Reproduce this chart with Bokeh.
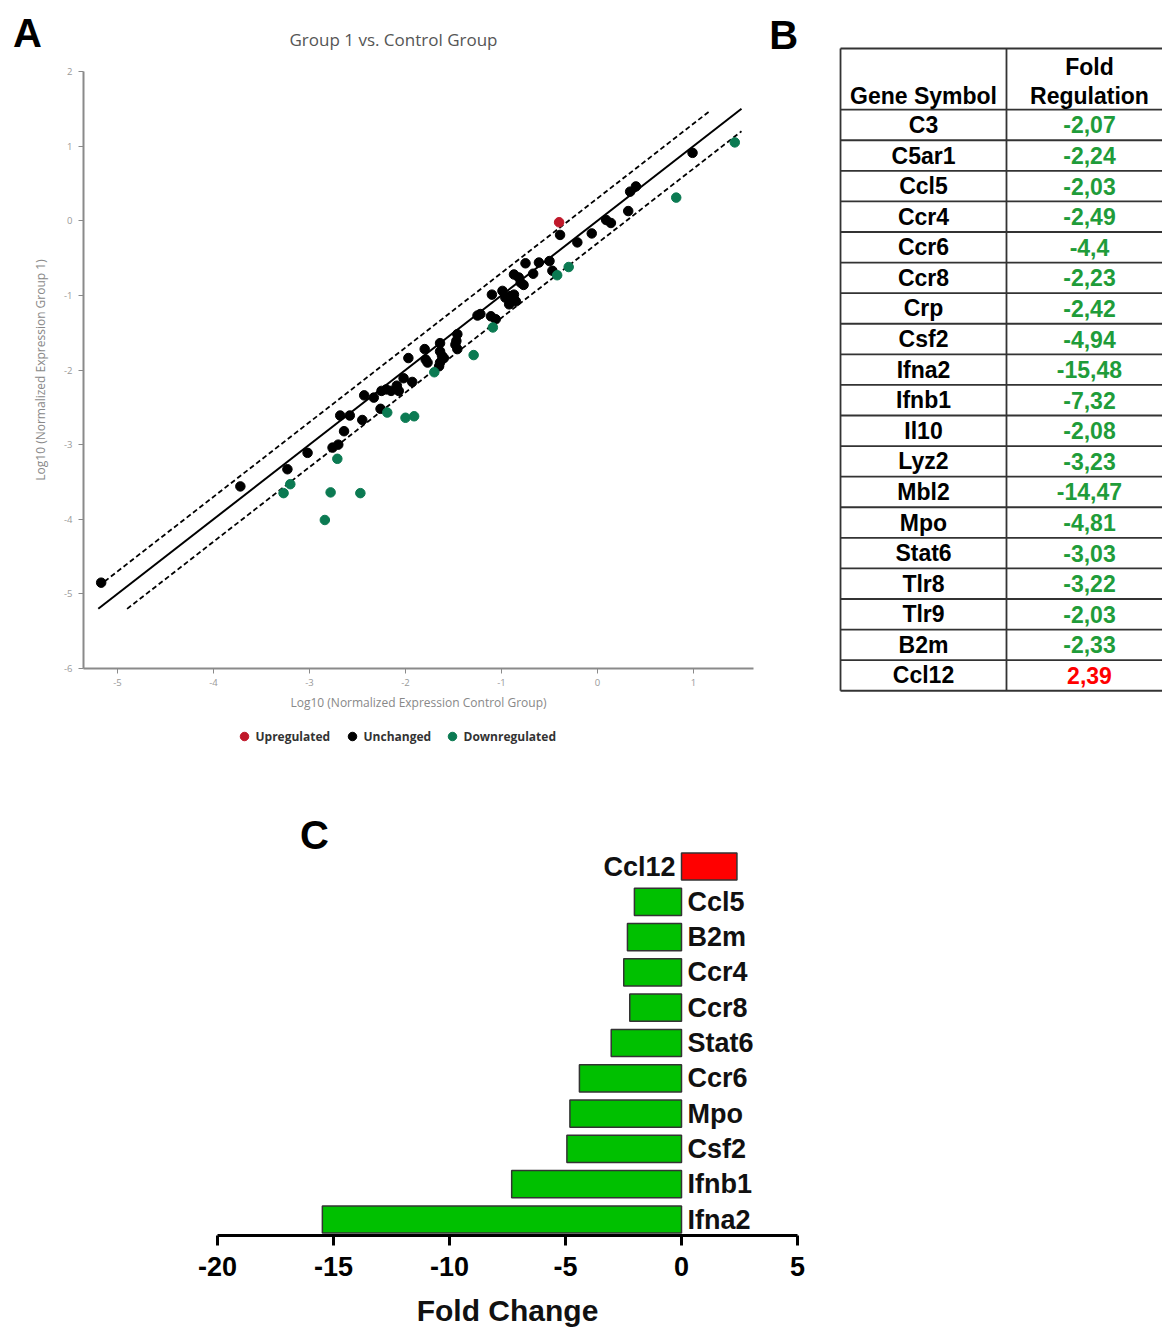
from bokeh.plotting import figure
from bokeh.models import Range1d, Label, FixedTicker
from bokeh.layouts import column, row
from bokeh.embed import file_html
from bokeh.resources import INLINE
from bokeh.core.properties import value

# ---------------- Panel A data (log10 normalized expression) ----------------
up_x = [-0.40]
up_y = [-0.02]

unch_x = [-5.17, -3.72, -3.23, -3.02, -2.76, -2.70, -2.64, -2.68, -2.58, -2.45,
          -2.43, -2.33, -2.26, -2.25, -2.20, -2.15, -2.09, -2.07, -2.02, -1.93,
          -1.97, -1.80, -1.79, -1.77, -1.64, -1.62, -1.64, -1.65, -1.46, -1.48,
          -1.47, -1.46, -1.64, -1.60, -1.25, -1.22, -1.11, -1.06, -1.10, -0.99,
          -0.96, -0.91, -0.87, -0.92, -0.85, -0.82, -0.80, -0.77, -0.87, -0.75,
          -0.61, -0.50, -0.67, -0.47, -0.39, -0.21, -0.06, 0.09, 0.14, 0.32,
          0.34, 0.40, 0.99]
unch_y = [-4.85, -3.56, -3.33, -3.11, -3.04, -3.00, -2.82, -2.61, -2.61, -2.67,
          -2.34, -2.37, -2.52, -2.28, -2.26, -2.28, -2.21, -2.28, -2.11, -2.16,
          -1.84, -1.72, -1.86, -1.90, -1.64, -1.81, -1.90, -1.95, -1.52, -1.66,
          -1.61, -1.72, -1.75, -1.84, -1.27, -1.25, -1.28, -1.32, -0.99, -0.94,
          -1.03, -1.01, -0.99, -1.12, -1.08, -0.76, -0.83, -0.86, -0.72, -0.57,
          -0.56, -0.54, -0.71, -0.67, -0.19, -0.29, -0.17, 0.01, -0.03, 0.13,
          0.39, 0.46, 0.91]

down_x = [1.43, 0.82, -0.30, -0.42, -1.09, -1.29, -1.70, -2.19, -2.00, -1.91,
          -2.71, -3.20, -3.27, -2.78, -2.47, -2.84]
down_y = [1.05, 0.31, -0.62, -0.73, -1.43, -1.80, -2.03, -2.57, -2.64, -2.62,
          -3.19, -3.53, -3.65, -3.64, -3.65, -4.01]

diag_x = [-5.2, 1.5]
upper_x = [-5.2, 1.18]
lower_x = [-4.9, 1.5]
fold_shift = 0.301  # log10(2)

a_xticks = [-5, -4, -3, -2, -1, 0, 1]
a_yticks = [-6, -5, -4, -3, -2, -1, 0, 1, 2]
legend_labels = ["Upregulated", "Unchanged", "Downregulated"]

# ---------------- Panel B data ----------------
table_genes = ["C3", "C5ar1", "Ccl5", "Ccr4", "Ccr6", "Ccr8", "Crp", "Csf2", "Ifna2",
               "Ifnb1", "Il10", "Lyz2", "Mbl2", "Mpo", "Stat6", "Tlr8", "Tlr9", "B2m", "Ccl12"]
table_fold = [-2.07, -2.24, -2.03, -2.49, -4.4, -2.23, -2.42, -4.94, -15.48,
              -7.32, -2.08, -3.23, -14.47, -4.81, -3.03, -3.22, -2.03, -2.33, 2.39]

# ---------------- Panel C data ----------------
bar_genes = ["Ifna2", "Ifnb1", "Csf2", "Mpo", "Ccr6", "Stat6", "Ccr8", "Ccr4", "B2m", "Ccl5", "Ccl12"]
bar_vals = [-15.48, -7.32, -4.94, -4.81, -4.4, -3.03, -2.23, -2.49, -2.33, -2.03, 2.39]
c_xticks = [-20, -15, -10, -5, 0, 5]

RED_A = "#c0182a"
GREEN_A = "#0b7a52"
GRAY_AX = "#8a8a8a"
FONT_A = "Open Sans"
FONT_B = "Liberation Sans"


def bare(p):
    if "frame_align" in p.properties():
        p.frame_align = False
    p.grid.visible = False
    p.outline_line_color = None
    return p


# =============== Header strip for panel A (letter + title) ===============
HDR_H = 54
hdr = bare(figure(width=765, height=HDR_H, x_range=Range1d(0, 765), y_range=Range1d(HDR_H, 0),
                  output_backend="svg", toolbar_location=None, min_border=0,
                  x_axis_location=None, y_axis_location=None))
hdr.add_layout(Label(x=27, y=32, text="A", text_align="center", text_baseline="middle",
                     text_font=FONT_B, text_font_size="40px", text_font_style="bold",
                     text_color="black"))
hdr.add_layout(Label(x=393, y=39, text="Group 1 vs. Control Group", text_align="center",
                     text_baseline="middle", text_font=FONT_A, text_font_size="17px",
                     text_color="#555555"))

# =============== Panel A ===============
pA = bare(figure(width=765, height=715 - HDR_H, x_range=Range1d(-5.354, 1.625),
                 y_range=Range1d(-6.0, 2.0), output_backend="svg", toolbar_location=None,
                 min_border_left=83, min_border_right=12, min_border_top=71 - HDR_H,
                 min_border_bottom=47))
for ax in (pA.xaxis[0], pA.yaxis[0]):
    ax.axis_line_color = GRAY_AX
    ax.axis_line_width = 2
    ax.major_tick_line_color = GRAY_AX
    ax.major_tick_out = 5
    ax.major_tick_in = 0
    ax.minor_tick_line_color = None
    ax.major_label_text_color = "#999999"
    ax.major_label_text_font = FONT_A
    ax.major_label_text_font_size = "9.5px"
    ax.axis_label_text_color = "#888888"
    ax.axis_label_text_font = FONT_A
    ax.axis_label_text_font_size = "12px"
    ax.axis_label_text_font_style = "normal"
pA.xaxis.ticker = FixedTicker(ticks=a_xticks)
pA.yaxis.ticker = FixedTicker(ticks=a_yticks)
pA.xaxis.major_label_overrides = {t: str(t) for t in a_xticks}
pA.yaxis.major_label_overrides = {t: str(t) for t in a_yticks}
pA.xaxis.axis_label = "Log10 (Normalized Expression Control Group)"
pA.yaxis.axis_label = "Log10 (Normalized Expression Group 1)"
pA.xaxis.major_label_standoff = 5
pA.yaxis.major_label_standoff = 6
pA.xaxis.axis_label_standoff = 5
pA.yaxis.axis_label_standoff = 12

pA.line(diag_x, diag_x, line_color="black", line_width=2)
pA.line(upper_x, [v + fold_shift for v in upper_x], line_color="black", line_width=1.8, line_dash="5 3")
pA.line(lower_x, [v - fold_shift for v in lower_x], line_color="black", line_width=1.8, line_dash="5 3")

pA.scatter(unch_x, unch_y, size=9.5, color="black")
pA.scatter(down_x, down_y, size=9.5, color=GREEN_A)
pA.scatter(up_x, up_y, size=9.5, color=RED_A)

# =============== Legend strip for panel A ===============
leg = bare(figure(width=765, height=42, x_range=Range1d(0, 765), y_range=Range1d(42, 0),
                  output_backend="svg", toolbar_location=None, min_border=0,
                  x_axis_location=None, y_axis_location=None))
leg_colors = [RED_A, "black", GREEN_A]
leg_pos = [244, 352, 452]
leg.scatter(leg_pos, [21] * 3, size=8.5, color=leg_colors)
leg.text([p + 11 for p in leg_pos], [21] * 3, text=legend_labels, text_align="left",
         text_baseline="middle", text_font=value(FONT_A), text_font_size="12px",
         text_font_style="bold", text_color="#333333")

# =============== Panel B ===============
pB = bare(figure(width=397, height=760, x_range=Range1d(-0.452, 1.94), y_range=Range1d(20.78, -4.07),
                 output_backend="svg", toolbar_location=None, min_border=0,
                 x_axis_location=None, y_axis_location=None))

n_rows = len(table_genes)
row_idx = list(range(n_rows))
h_lines = [-2.5] + [i - 0.5 for i in range(n_rows + 1)]
pB.segment(x0=[0] * len(h_lines), x1=[2.2] * len(h_lines), y0=h_lines, y1=h_lines,
           line_color="#333333", line_width=1.8)
pB.segment(x0=[0, 1], x1=[0, 1], y0=[-2.5, -2.5], y1=[n_rows - 0.5] * 2,
           line_color="#333333", line_width=1.8)

pB.text(x=[0.5] * n_rows, y=row_idx, text=table_genes, text_align="center", text_baseline="middle",
        text_font=value(FONT_B), text_font_size="23px", text_font_style="bold", text_color="black")
val_text = [str(v).replace(".", ",") for v in table_fold]
val_col = ["#ff0000" if v > 0 else "#1f9c3a" for v in table_fold]
pB.text(x=[1.5] * n_rows, y=row_idx, text=val_text, text_color=val_col, text_align="center",
        text_baseline="middle", text_font=value(FONT_B), text_font_size="23px", text_font_style="bold")
pB.text(x=[0.5, 1.5, 1.5], y=[-0.95, -1.91, -0.95], text=["Gene Symbol", "Fold", "Regulation"],
        text_align="center", text_baseline="middle", text_font=value(FONT_B), text_font_size="23px",
        text_font_style="bold", text_color="black")
pB.add_layout(Label(x=-0.343, y=-2.93, text="B", text_align="center", text_baseline="middle",
                    text_font=FONT_B, text_font_size="40px", text_font_style="bold",
                    text_color="black"))

# =============== Panel C ===============
pC = bare(figure(width=1162, height=572, x_range=Range1d(-20, 5), y_range=Range1d(-0.453, 11.87),
                 output_backend="svg", toolbar_location=None,
                 min_border_left=217, min_border_right=365, min_border_top=40, min_border_bottom=97,
                 y_axis_location=None))
idx = list(range(len(bar_genes)))
bar_colors = ["#ff0000" if v > 0 else "#00c000" for v in bar_vals]
pC.hbar(y=idx, left=0, right=bar_vals, height=0.77, fill_color=bar_colors,
        line_color="#333333", line_width=1.5)
neg_i = [i for i, v in enumerate(bar_vals) if v < 0]
pos_i = [i for i, v in enumerate(bar_vals) if v > 0]
pC.text(x=[0] * len(neg_i), y=neg_i, text=[bar_genes[i] for i in neg_i], x_offset=6,
        text_align="left", text_baseline="middle", text_font=value(FONT_B), text_font_size="27px",
        text_font_style="bold", text_color="#111111")
pC.text(x=[0] * len(pos_i), y=pos_i, text=[bar_genes[i] for i in pos_i], x_offset=-6,
        text_align="right", text_baseline="middle", text_font=value(FONT_B), text_font_size="27px",
        text_font_style="bold", text_color="#111111")
xa = pC.xaxis[0]
xa.ticker = FixedTicker(ticks=c_xticks)
xa.major_label_overrides = {t: str(t) for t in c_xticks}
xa.axis_line_width = 3
xa.axis_line_color = "black"
xa.major_tick_line_width = 3
xa.major_tick_out = 10
xa.major_tick_in = 0
xa.minor_tick_line_color = None
xa.major_label_text_font = FONT_B
xa.major_label_text_font_size = "27px"
xa.major_label_text_font_style = "bold"
xa.major_label_text_color = "black"
xa.major_label_standoff = 11
xa.axis_label = "Fold Change"
xa.axis_label_text_font = FONT_B
xa.axis_label_text_font_size = "30px"
xa.axis_label_text_font_style = "bold"
xa.axis_label_text_color = "#111111"
xa.axis_label_standoff = 15
pC.add_layout(Label(x=-15.82, y=10.88, text="C", text_align="center", text_baseline="middle",
                    text_font=FONT_B, text_font_size="40px", text_font_style="bold",
                    text_color="black"))

layout = column(row(column(hdr, pA, leg), pB), pC)
open("out.html", "w").write(file_html(layout, INLINE))
